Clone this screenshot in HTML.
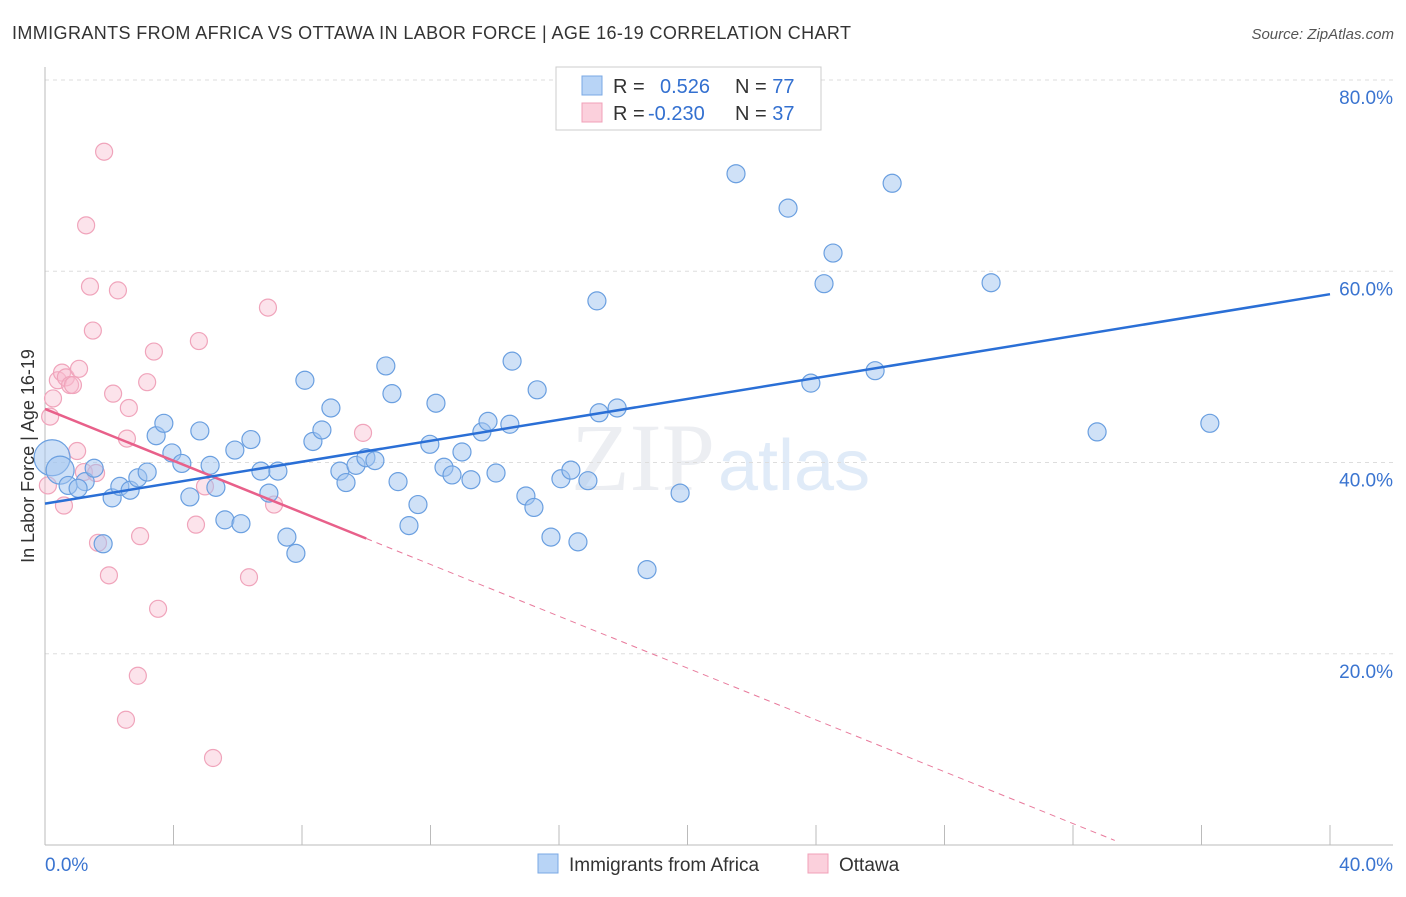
<!DOCTYPE html>
<html><head><meta charset="utf-8"><style>
body{margin:0;background:#fff;font-family:"Liberation Sans",sans-serif;}
</style></head><body>
<svg id="chart" width="1406" height="892" xmlns="http://www.w3.org/2000/svg" font-family="Liberation Sans, sans-serif">
<text x="12" y="39" font-size="18" fill="#333" textLength="839">IMMIGRANTS FROM AFRICA VS OTTAWA IN LABOR FORCE | AGE 16-19 CORRELATION CHART</text>
<text x="1394" y="39" font-size="15" fill="#555" text-anchor="end" font-style="italic">Source: ZipAtlas.com</text>
<text x="715" y="490" font-size="96" fill="#eceef2" text-anchor="end" font-family="Liberation Serif, serif">ZIP</text>
<text x="718" y="490" font-size="72" fill="#e0ebf8">atlas</text>
<g id="grid"></g><g id="axes"></g><g id="marks"></g>
<text transform="translate(34,456) rotate(-90)" font-size="18" fill="#333" text-anchor="middle">In Labor Force | Age 16-19</text>
<g>
<rect x="556" y="67" width="265" height="63" fill="#fff" stroke="#ccc"/>
<rect x="582" y="76" width="20" height="19" fill="#b8d4f6" stroke="#7aa8e4"/>
<rect x="582" y="103" width="20" height="19" fill="#fbd0dc" stroke="#f0a0b8"/>
<text x="613" y="93" font-size="20" fill="#333">R = <tspan x="660" fill="#3370d0">0.526</tspan><tspan x="735" fill="#333">N = </tspan><tspan fill="#3370d0">77</tspan></text>
<text x="613" y="120" font-size="20" fill="#333">R = <tspan x="648" fill="#3370d0">-0.230</tspan><tspan x="735" fill="#333">N = </tspan><tspan fill="#3370d0">37</tspan></text>
</g>
<g>
<rect x="538" y="854" width="20" height="19" fill="#b8d4f6" stroke="#7aa8e4"/>
<text x="569" y="871" font-size="19" fill="#333">Immigrants from Africa</text>
<rect x="808" y="854" width="20" height="19" fill="#fbd0dc" stroke="#f0a0b8"/>
<text x="839" y="871" font-size="19" fill="#333">Ottawa</text>
</g>
</svg>
<script>
const blueX=[0.22,0.47,0.72,1.25,1.03,1.53,1.81,2.09,2.33,2.65,2.89,3.18,3.46,3.70,3.95,4.26,4.51,4.82,5.14,5.32,5.60,5.91,6.10,6.41,6.72,6.97,7.25,7.53,7.81,8.09,8.34,8.62,8.90,9.18,9.37,9.68,9.99,10.27,10.61,10.80,10.99,11.33,11.61,11.98,12.17,12.42,12.67,12.98,13.26,13.60,13.79,14.04,14.47,14.54,14.97,15.22,15.32,15.75,16.06,16.37,16.59,16.90,17.18,17.25,17.81,18.74,19.77,21.51,23.13,23.84,24.25,24.53,25.84,26.37,29.45,32.75,36.26];
const blueY=[40.5,39.2,37.6,38.0,37.3,39.4,31.5,36.3,37.5,37.1,38.4,39.0,42.8,44.1,41.0,39.9,36.4,43.3,39.7,37.4,34.0,41.3,33.6,42.4,39.1,36.8,39.1,32.2,30.5,48.6,42.2,43.4,45.7,39.1,37.9,39.7,40.5,40.2,50.1,47.2,38.0,33.4,35.6,41.9,46.2,39.5,38.7,41.1,38.2,43.2,44.3,38.9,44.0,50.6,36.5,35.3,47.6,32.2,38.3,39.2,31.7,38.1,56.9,45.2,45.7,28.8,36.8,70.2,66.6,48.3,58.7,61.9,49.6,69.2,58.8,43.2,44.1];
const pinkX=[0.09,0.16,0.25,0.40,0.53,0.65,0.78,0.87,0.59,1.06,1.00,1.21,1.40,1.28,1.49,1.59,1.65,1.84,1.99,2.12,2.27,2.55,2.61,2.52,2.96,3.18,3.39,3.52,2.89,4.70,4.79,4.98,5.23,6.35,6.94,7.13,9.90];
const pinkY=[37.6,44.8,46.7,48.6,49.4,48.9,48.1,48.1,35.5,49.8,41.2,39.0,58.4,64.8,53.8,38.9,31.6,72.5,28.2,47.2,58.0,42.5,45.7,13.1,32.3,48.4,51.6,24.7,17.7,33.5,52.7,37.5,9.1,28.0,56.2,35.6,43.1];
const blueTrend=[35.7,57.6];
const pinkTrend=[45.6,-8.6];
const yTicks=[20,40,60,80];
const xTickLabels=["0.0%","40.0%"];
const NS="http://www.w3.org/2000/svg";
const X0=45,X1=1330,Y0=845,YT=80;
const sx=v=>X0+(X1-X0)*v/40;
const sy=v=>Y0-(Y0-YT)*v/80;
function mk(tag,attrs,parent){const e=document.createElementNS(NS,tag);for(const k in attrs)e.setAttribute(k,attrs[k]);parent.appendChild(e);return e;}
const grid=document.getElementById('grid'),axes=document.getElementById('axes'),marks=document.getElementById('marks');
yTicks.forEach(t=>{
 const l=mk('line',{x1:45,x2:1393,y1:sy(t),y2:sy(t),stroke:'#ddd','stroke-dasharray':'4,4'},grid);
 
 
 const tx=mk('text',{x:1393,y:sy(t)+24,'font-size':19,fill:'#3a74d0','text-anchor':'end'},axes);
 tx.textContent=t.toFixed(1)+'%';
 
 
});
const ax=mk('line',{x1:45,x2:1393,y1:845,y2:845,stroke:'#bbb'},axes);


const ay=mk('line',{x1:45,x2:45,y1:67,y2:845,stroke:'#bbb'},axes);


for(let i=0;i<=10;i++){
 const t=mk('line',{x1:sx(i*4),x2:sx(i*4),y1:825,y2:845,stroke:'#bbb'},axes);
 
 
}
[[0,'start'],[40,'end']].forEach((p,i)=>{
 const t=mk('text',{x:i?1393:45,y:871,'font-size':19,fill:'#3a74d0','text-anchor':p[1]},axes);
 t.textContent=xTickLabels[i];
 
 
});
pinkX.forEach((x,i)=>{
 const c=mk('circle',{cx:sx(x),cy:sy(pinkY[i]),r:8.5,fill:'rgba(248,184,204,0.4)',stroke:'#f0a4bb','stroke-width':1.2},marks);
 
 
});
blueX.forEach((x,i)=>{
 const r=i===0?18:(i===1?14:9);
 const c=mk('circle',{cx:sx(x),cy:sy(blueY[i]),r:r,fill:'rgba(160,196,240,0.5)',stroke:'#6a9fe0','stroke-width':1.2},marks);
 
 
});
const pAt=x=>pinkTrend[0]+(pinkTrend[1]-pinkTrend[0])*x/40;
const pd=mk('line',{x1:sx(10),y1:sy(pAt(10)),x2:sx(33.3),y2:sy(pAt(33.3)),stroke:'#e87a9c','stroke-width':1,'stroke-dasharray':'6,5'},marks);


const ps=mk('line',{x1:sx(0),y1:sy(pAt(0)),x2:sx(10),y2:sy(pAt(10)),stroke:'#e8608a','stroke-width':2.5},marks);


const bl=mk('line',{x1:sx(0),y1:sy(blueTrend[0]),x2:sx(40),y2:sy(blueTrend[1]),stroke:'#2a6fd6','stroke-width':2.5},marks);


</script>
</body></html>
